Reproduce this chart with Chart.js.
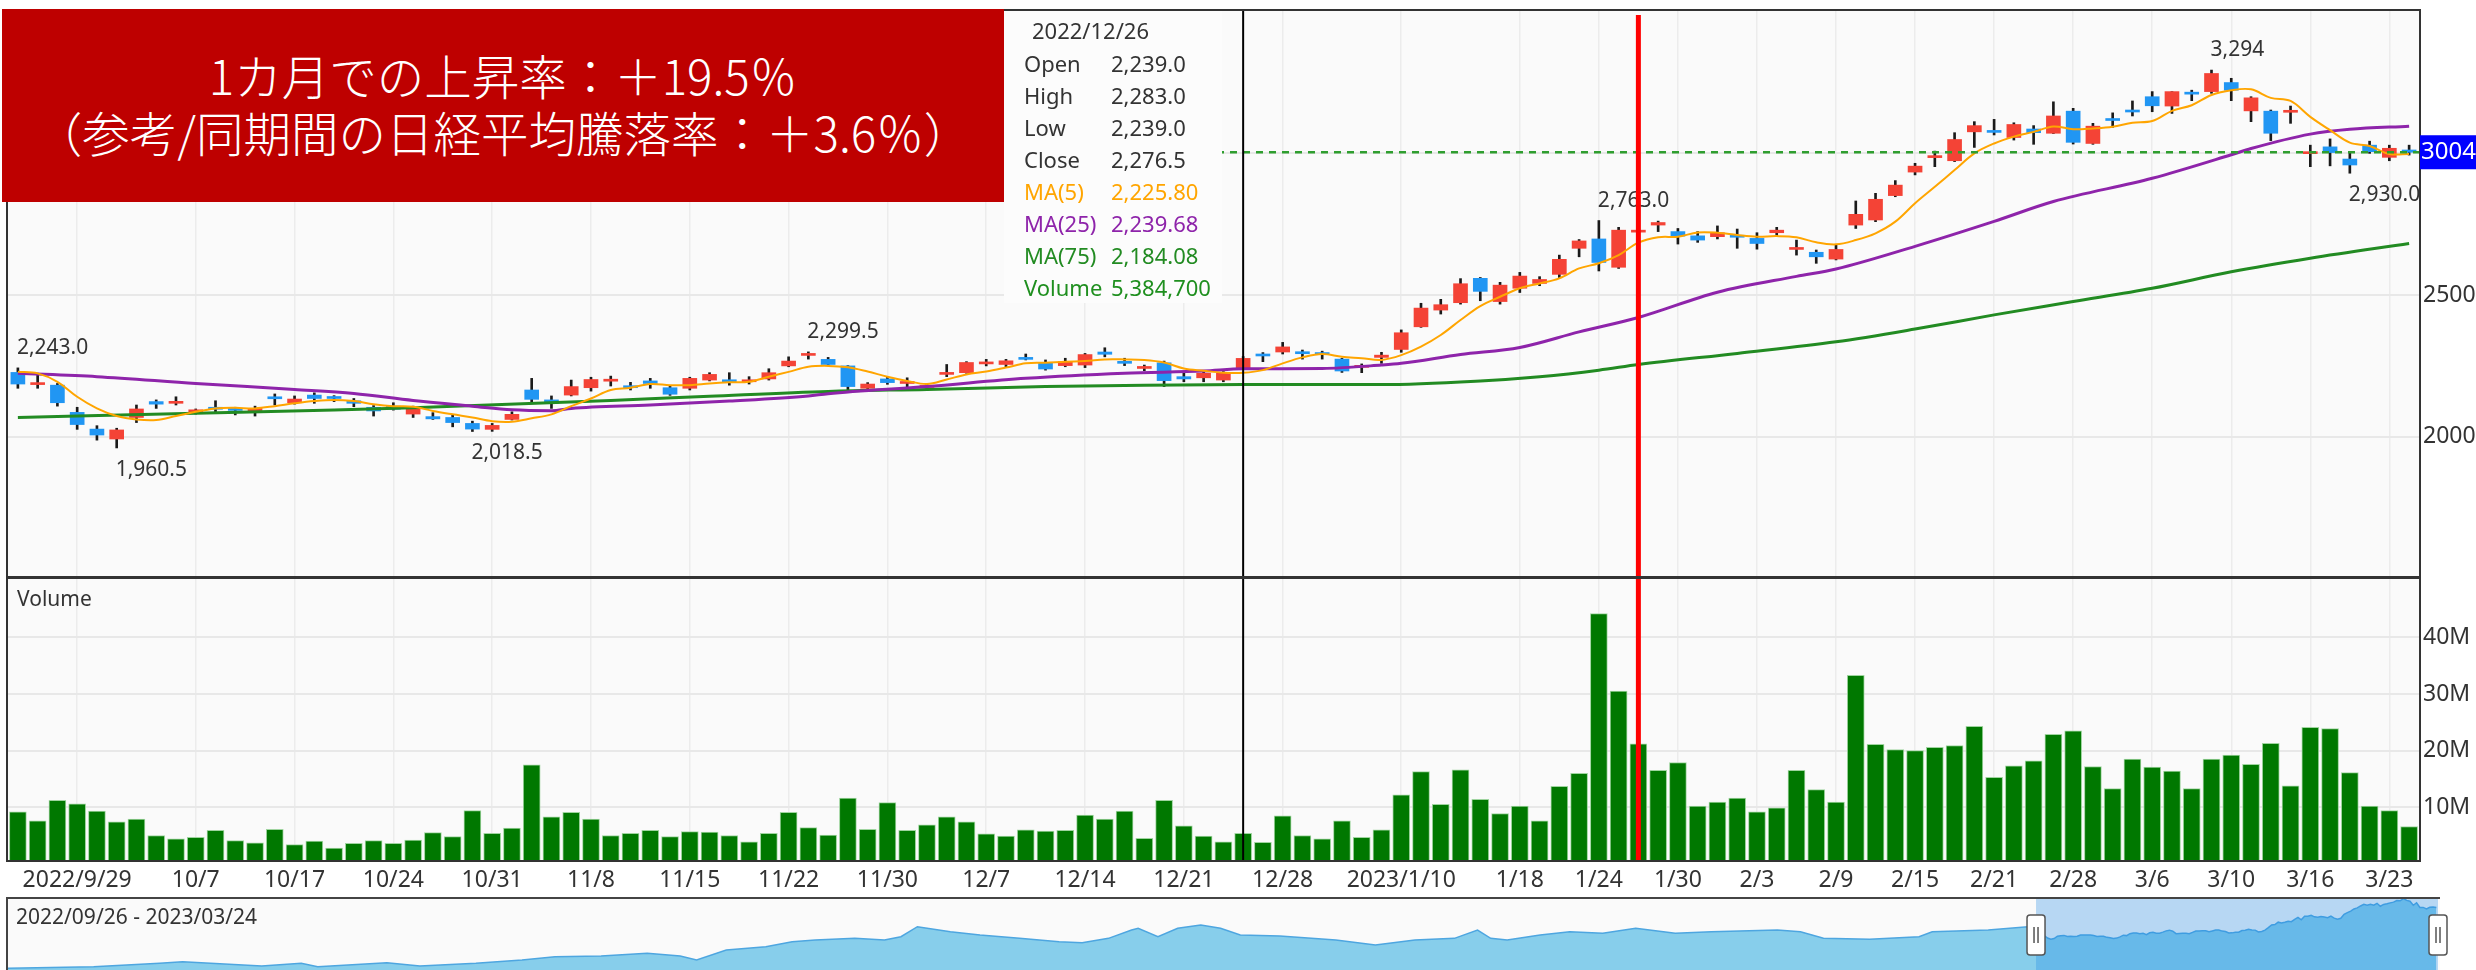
<!DOCTYPE html>
<html>
<head>
<meta charset="utf-8">
<script src="https://cdn.jsdelivr.net/npm/chart.js@4.4.0/dist/chart.umd.min.js"></script>
<style>
  html, body { margin: 0; padding: 0; background: #fff; }
  #wrap { position: relative; width: 2476px; height: 970px; overflow: hidden; }
  canvas { position: absolute; left: 0; }
  #price { top: 0; }
  #volume { top: 578px; }
  #nav { top: 897px; }
  #note { position: absolute; left: 2px; top: 9px; width: 1002px; height: 193px; background: #be0000;
          color: #fff; font-family: "Noto Sans CJK JP Light", "Noto Sans CJK JP"; font-weight: 300; font-size: 47.5px; text-align: center; }
  #note div { position: absolute; left: 0; right: 0; height: 57px; line-height: 57px; white-space: nowrap; }
</style>
</head>
<body>
<div id="wrap">
  <canvas id="price" width="2476" height="578"></canvas>
  <canvas id="volume" width="2476" height="320"></canvas>
  <canvas id="nav" width="2476" height="73"></canvas>
  <div id="note">
    <div style="top:37px">1カ月での上昇率：＋19.5％</div>
    <div style="top:94px">（参考/同期間の日経平均騰落率：＋3.6％）</div>
  </div>
</div>
<script>
// trading days shown
const months = [
  ['2022/09', [26, 27, 28, 29, 30]],
  ['2022/10', [3, 4, 5, 6, 7, 11, 12, 13, 14, 17, 18, 19, 20, 21, 24, 25, 26, 27, 28, 31]],
  ['2022/11', [1, 2, 4, 7, 8, 9, 10, 11, 14, 15, 16, 17, 18, 21, 22, 24, 25, 28, 29, 30]],
  ['2022/12', [1, 2, 5, 6, 7, 8, 9, 12, 13, 14, 15, 16, 19, 20, 21, 22, 23, 26, 27, 28, 29, 30]],
  ['2023/01', [4, 5, 6, 10, 11, 12, 13, 16, 17, 18, 19, 20, 23, 24, 25, 26, 27, 30, 31]],
  ['2023/02', [1, 2, 3, 6, 7, 8, 9, 10, 13, 14, 15, 16, 17, 20, 21, 22, 24, 27, 28]],
  ['2023/03', [1, 2, 3, 6, 7, 8, 9, 10, 13, 14, 15, 16, 17, 20, 22, 23, 24]]
];
const dates = [];
months.forEach(([ym, days]) => days.forEach(d => dates.push(ym + '/' + String(d).padStart(2, '0'))));

const tickDates = ['2022/09/29', '2022/10/07', '2022/10/17', '2022/10/24', '2022/10/31', '2022/11/08', '2022/11/15',
  '2022/11/22', '2022/11/30', '2022/12/07', '2022/12/14', '2022/12/21', '2022/12/28', '2023/01/10', '2023/01/18',
  '2023/01/24', '2023/01/30', '2023/02/03', '2023/02/09', '2023/02/15', '2023/02/21', '2023/02/28', '2023/03/06',
  '2023/03/10', '2023/03/16', '2023/03/23'];
const tickTexts = ['2022/9/29', '10/7', '10/17', '10/24', '10/31', '11/8', '11/15', '11/22', '11/30', '12/7', '12/14',
  '12/21', '12/28', '2023/1/10', '1/18', '1/24', '1/30', '2/3', '2/9', '2/15', '2/21', '2/28', '3/6', '3/10', '3/16', '3/23'];

const opens = [2227, 2184, 2182, 2086, 2027, 1992, 2068, 2124, 2118, 2088, 2098, 2094, 2085, 2139, 2120, 2147, 2136, 2127, 2104, 2108,
  2080, 2071, 2068, 2047, 2026, 2061, 2165, 2130, 2147, 2173, 2196, 2179, 2197, 2173, 2171, 2200, 2195, 2194, 2204, 2250,
  2287, 2273, 2250, 2171, 2204, 2188, 2174, 2220, 2226, 2257, 2255, 2277, 2259, 2251, 2253, 2299, 2266, 2241, 2261, 2212,
  2208, 2200, 2239, 2288, 2299, 2299, 2291, 2274, 2245, 2280, 2308, 2388, 2447, 2473, 2559, 2477, 2524, 2541, 2573, 2665,
  2698, 2598, 2722, 2747, 2724, 2709, 2706, 2711, 2700, 2720, 2661, 2651, 2627, 2747, 2765, 2851, 2934, 2985, 2974, 3076,
  3081, 3056, 3086, 3071, 3149, 3035, 3121, 3152, 3200, 3167, 3215, 3218, 3250, 3150, 3149, 3145, 2999, 3023, 2980, 3029,
  2986, 3012];
const highs = [2243, 2224, 2188, 2104, 2039, 2030, 2112, 2130, 2141, 2098, 2127, 2104, 2108, 2151, 2144, 2155, 2145, 2135, 2110, 2120,
  2108, 2085, 2077, 2055, 2047, 2088, 2206, 2144, 2200, 2210, 2214, 2192, 2206, 2179, 2210, 2226, 2226, 2212, 2240, 2282,
  2299.5, 2280, 2251, 2191, 2212, 2208, 2185, 2255, 2265, 2273, 2273, 2292, 2271, 2277, 2294, 2314, 2277, 2253, 2267, 2224,
  2232, 2230, 2283, 2297, 2333, 2306, 2302, 2277, 2257, 2298, 2377, 2471, 2485, 2558, 2562, 2545, 2580, 2565, 2641, 2696,
  2763, 2739, 2728, 2761, 2735, 2724, 2744, 2733, 2720, 2739, 2694, 2659, 2677, 2832, 2859, 2904, 2965, 3008, 3073, 3112,
  3120, 3108, 3098, 3182, 3159, 3106, 3143, 3185, 3218, 3218, 3223, 3294, 3265, 3200, 3153, 3167, 3029, 3051, 3003, 3043,
  3029, 3029];
const lows = [2171, 2171, 2108, 2026, 1988, 1960.5, 2050, 2100, 2112, 2080, 2088, 2077, 2073, 2112, 2115, 2118, 2124, 2106, 2073, 2094,
  2068, 2061, 2035, 2018.5, 2019, 2059, 2120, 2100, 2144, 2161, 2179, 2165, 2171, 2146, 2165, 2197, 2182, 2186, 2200, 2247,
  2274, 2251, 2165, 2165, 2185, 2168, 2163, 2212, 2224, 2250, 2247, 2271, 2235, 2247, 2244, 2282, 2251, 2233, 2177, 2194,
  2194, 2194, 2239, 2265, 2292, 2274, 2274, 2227, 2226, 2259, 2298, 2386, 2433, 2468, 2480, 2468, 2509, 2533, 2562, 2635,
  2585, 2594, 2712, 2724, 2680, 2686, 2698, 2665, 2662, 2706, 2641, 2612, 2624, 2735, 2759, 2847, 2924, 2953, 2971, 3021,
  3065, 3047, 3032, 3070, 3033, 3032, 3092, 3132, 3147, 3141, 3186, 3212, 3186, 3112, 3045, 3106, 2953, 2956, 2930, 3000,
  2974, 2994];
const closes = [2186, 2186, 2120, 2043, 2006, 2024, 2098, 2115, 2124, 2089, 2097, 2093, 2100, 2134, 2133, 2135, 2135, 2118, 2091, 2097,
  2100, 2063, 2050, 2027, 2040, 2079, 2132, 2118, 2177, 2202, 2197, 2173, 2188, 2150, 2206, 2220, 2194, 2195, 2226, 2267,
  2289, 2255, 2177, 2186, 2191, 2194, 2177, 2221, 2262, 2261, 2268, 2273, 2239, 2265, 2290, 2291, 2259, 2244, 2198, 2204,
  2224, 2224, 2276.5, 2285, 2317, 2293, 2290, 2232, 2249, 2288, 2367, 2454, 2466, 2540, 2513, 2535, 2567, 2555, 2626, 2691,
  2615, 2729, 2724, 2756, 2708, 2694, 2720, 2704, 2682, 2729, 2667, 2635, 2661, 2785, 2838, 2888, 2955, 2988, 3049, 3098,
  3074, 3102, 3073, 3132, 3039, 3096, 3116, 3146, 3168, 3218, 3209, 3282, 3223, 3196, 3071, 3149, 3001, 3003, 2959, 3006,
  3018, 3004];
// volume in millions of shares
const volumes = [9.2, 7.6, 11.2, 10.6, 9.3, 7.4, 7.9, 5.0, 4.4, 4.7, 5.9, 4.1, 3.7, 6.1, 3.4, 4.0, 2.8, 3.6, 4.1, 3.6,
  4.2, 5.5, 4.8, 9.4, 5.4, 6.3, 17.5, 8.3, 9.1, 7.9, 5.0, 5.4, 5.9, 4.8, 5.7, 5.6, 5.0, 3.9, 5.4, 9.1,
  6.4, 5.1, 11.6, 6.1, 10.8, 5.9, 6.9, 8.3, 7.4, 5.3, 4.9, 6.0, 5.8, 5.9, 8.6, 7.9, 9.3, 4.5, 11.2, 6.7,
  4.9, 3.9, 5.3847, 3.8, 8.5, 5.0, 4.4, 7.6, 4.7, 6.0, 12.2, 16.3, 10.5, 16.6, 11.4, 8.9, 10.2, 7.6, 13.7, 16.0,
  44.2, 30.5, 21.2, 16.5, 17.9, 10.2, 10.9, 11.6, 9.2, 9.9, 16.5, 13.1, 10.9, 33.3, 21.1, 20.2, 20.0, 20.6, 20.9, 24.3,
  15.3, 17.3, 18.2, 22.9, 23.5, 17.2, 13.3, 18.5, 17.1, 16.4, 13.3, 18.5, 19.2, 17.6, 21.3, 13.8, 24.1, 23.9, 16.1, 10.2,
  9.4, 6.6];
const ma5 = [2229.5, 2223.6, 2194, 2141, 2100, 2073, 2061, 2059, 2073, 2088, 2100, 2102, 2100, 2108, 2118, 2126, 2130, 2126, 2115, 2108,
  2106, 2091, 2079, 2068, 2055, 2053, 2065, 2079, 2108, 2135, 2165, 2173, 2186, 2182, 2182, 2188, 2192, 2194, 2212, 2229,
  2247, 2250, 2245, 2230, 2212, 2197, 2186, 2202, 2220, 2230, 2244, 2259, 2261, 2265, 2267, 2273, 2273, 2271, 2262, 2241,
  2233, 2226, 2225.80, 2235, 2259, 2280, 2292, 2282, 2277, 2271, 2288, 2318, 2359, 2412, 2461, 2494, 2524, 2541, 2559, 2594,
  2612, 2641, 2685, 2704, 2706, 2721, 2720, 2712, 2706, 2708, 2704, 2686, 2679, 2694, 2718, 2759, 2824, 2882, 2941, 3000,
  3035, 3059, 3076, 3095, 3085, 3088, 3094, 3108, 3114, 3150, 3170, 3206, 3223, 3226, 3196, 3185, 3129, 3082, 3038, 3026,
  2998, 2998];
const ma25Idx = [0, 4, 9, 14, 17, 20, 23, 25, 27, 28, 32, 36, 40, 41, 46, 51, 56, 60, 62, 66, 69, 70, 73, 76, 79, 82, 86, 90, 92, 96, 100, 103, 108, 112, 113, 116, 118, 121];
const ma25Val = [2224, 2212, 2188, 2167, 2153, 2128, 2108, 2095, 2092, 2100, 2112, 2126, 2144, 2152, 2177, 2206, 2224, 2232, 2239.68, 2241, 2253, 2259, 2290, 2315, 2370, 2421, 2510, 2566, 2592, 2672, 2760, 2830, 2912, 2995, 3017, 3068, 3085, 3096];
const ma75Idx = [0, 9, 16, 20, 30, 35, 41, 46, 52, 57, 62, 69, 74, 77, 80, 82, 87, 92, 96, 100, 104, 108, 112, 116, 121];
const ma75Val = [2068, 2083, 2094, 2102, 2128, 2143, 2160, 2167, 2177, 2182, 2184.08, 2184, 2197, 2212, 2235, 2255, 2294, 2335, 2380, 2430, 2477, 2524, 2582, 2630, 2682];

const peakIdx = [0, 5, 23, 40, 80, 111, 118];
const peakKind = ['high', 'low', 'low', 'high', 'high', 'high', 'low'];
const peakText = ['2,243.0', '1,960.5', '2,018.5', '2,299.5', '2,763.0', '3,294', '2,930.0'];

const crossDate = '2022/12/26';
const markDate = '2023/01/26';
const lastPrice = 3004;
const priceTicks = [2000, 2500, 3000];
const volTicks = [10, 20, 30, 40];

// navigator history before the shown window (day number, price)
const navDays = [0, 26, 46, 53, 77, 89, 94, 115, 125, 142, 156, 166, 180, 194, 204, 209, 218, 230, 238, 245,
  257, 266, 271, 276, 286, 295, 307, 319, 326, 334, 341, 343, 349, 355, 362, 368, 374, 386, 403, 415,
  427, 439, 446, 450, 455, 465, 474, 484, 494, 506, 517, 537, 544, 551, 565, 580, 584, 601, 613];
const navVals = [1090, 1142, 1247, 1299, 1163, 1247, 1142, 1268, 1163, 1247, 1352, 1456, 1477, 1561, 1477, 1352, 1666, 1770, 1927, 1980,
  2032, 1980, 2084, 2398, 2241, 2137, 2032, 1927, 1896, 2032, 2294, 2346, 2084, 2346, 2451, 2346, 2137, 2105, 1980, 1823,
  1980, 2032, 2294, 2032, 1980, 2137, 2241, 2189, 2346, 2189, 2241, 2294, 2241, 2032, 2001, 2084, 2241, 2294, 2398];
const navFirstDay = 616;

const UP = '#f44336', DOWN = '#2196f3';
const FONT = '"Noto Sans", "Open Sans", sans-serif';
const tickIdx = tickDates.map(d => dates.indexOf(d));
const crossIdx = dates.indexOf(crossDate);
const markIdx = dates.indexOf(markDate);

const sparse = (idx, val) => {
  const out = Array(dates.length).fill(null);
  idx.forEach((i, k) => { out[i] = val[k]; });
  return out;
};
const ma25 = sparse(ma25Idx, ma25Val);
const ma75 = sparse(ma75Idx, ma75Val);
const fmt = (v, d) => v.toLocaleString('en-US', { minimumFractionDigits: d, maximumFractionDigits: d });

const xGrid = {
  offset: false, drawTicks: false, lineWidth: 1.5,
  color: ctx => tickIdx.includes(ctx.index) ? '#ececec' : 'rgba(0,0,0,0)'
};
const fixY = s => { s.width = 57; s.paddingTop = 0; s.paddingBottom = 0; };

function vLines(chart, top) {
  const { ctx, chartArea, scales } = chart;
  ctx.save();
  ctx.strokeStyle = '#000';
  ctx.lineWidth = 2;
  const cx = scales.x.getPixelForValue(crossIdx);
  ctx.beginPath(); ctx.moveTo(cx, chartArea.top); ctx.lineTo(cx, chartArea.bottom); ctx.stroke();
  ctx.strokeStyle = '#ff0000';
  ctx.lineWidth = 5;
  const mx = scales.x.getPixelForValue(markIdx);
  ctx.beginPath(); ctx.moveTo(mx, chartArea.top + top); ctx.lineTo(mx, chartArea.bottom); ctx.stroke();
  ctx.restore();
}
function frame(chart) {
  const { ctx, chartArea } = chart;
  ctx.save();
  ctx.strokeStyle = '#333';
  ctx.lineWidth = 2;
  ctx.strokeRect(chartArea.left - 1, chartArea.top, chartArea.right - chartArea.left + 2, chartArea.bottom - chartArea.top);
  ctx.restore();
}
function fillBg(chart) {
  const { ctx, chartArea } = chart;
  ctx.save();
  ctx.fillStyle = '#fafafa';
  ctx.fillRect(chartArea.left, chartArea.top, chartArea.right - chartArea.left, chartArea.bottom - chartArea.top);
  ctx.restore();
}

const priceExtras = {
  id: 'priceExtras',
  beforeDraw: fillBg,
  afterDatasetsDraw(chart) {
    const { ctx, chartArea, scales } = chart;
    const y = scales.y;
    ctx.save();
    // current price line
    ctx.strokeStyle = '#2f9e2f';
    ctx.lineWidth = 2.5;
    ctx.setLineDash([7, 6]);
    const ly = y.getPixelForValue(lastPrice);
    ctx.beginPath(); ctx.moveTo(chartArea.left, ly); ctx.lineTo(chartArea.right, ly); ctx.stroke();
    ctx.setLineDash([]);
    // high / low labels
    ctx.beginPath();
    ctx.rect(chartArea.left, chartArea.top, chartArea.right - chartArea.left, chartArea.bottom - chartArea.top);
    ctx.clip();
    ctx.font = '21px ' + FONT;
    ctx.fillStyle = '#333';
    ctx.textAlign = 'left';
    ctx.textBaseline = 'middle';
    peakIdx.forEach((i, k) => {
      const px = scales.x.getPixelForValue(i);
      const py = peakKind[k] === 'high' ? y.getPixelForValue(highs[i]) - 20 : y.getPixelForValue(lows[i]) + 22;
      ctx.fillText(peakText[k], px - 1, py);
    });
    ctx.restore();
    vLines(chart, 5);
  },
  afterDraw(chart) {
    const { ctx, chartArea, scales } = chart;
    frame(chart);
    // info box for the crosshair day
    ctx.save();
    ctx.fillStyle = '#fcfcfc';
    ctx.fillRect(1004, chartArea.top + 1, 218, 292);
    ctx.font = '22px ' + FONT;
    ctx.textBaseline = 'middle';
    ctx.textAlign = 'left';
    ctx.fillStyle = '#333';
    ctx.fillText(dates[crossIdx], 1032, 33);
    const rows = [
      ['Open', fmt(opens[crossIdx], 1), '#333'],
      ['High', fmt(highs[crossIdx], 1), '#333'],
      ['Low', fmt(lows[crossIdx], 1), '#333'],
      ['Close', fmt(closes[crossIdx], 1), '#333'],
      ['MA(5)', fmt(ma5[crossIdx], 2), '#ffa500'],
      ['MA(25)', fmt(ma25[crossIdx], 2), '#8e24aa'],
      ['MA(75)', fmt(ma75[crossIdx], 2), '#228b22'],
      ['Volume', fmt(Math.round(volumes[crossIdx] * 1e6), 0), '#1f8f1f']
    ];
    rows.forEach((r, k) => {
      ctx.fillStyle = r[2];
      ctx.fillText(r[0], 1024, 66 + k * 32);
      ctx.fillText(r[1], 1111, 66 + k * 32);
    });
    // price tag on the axis
    const ty = scales.y.getPixelForValue(lastPrice);
    ctx.fillStyle = '#0000ff';
    ctx.fillRect(chartArea.right + 1, ty - 17, 60, 34);
    ctx.fillStyle = '#fff';
    ctx.font = '24px ' + FONT;
    ctx.fillText(String(lastPrice), chartArea.right + 2, ty);
    ctx.restore();
  }
};

new Chart(document.getElementById('price'), {
  type: 'bar',
  data: {
    labels: dates,
    datasets: [
      { type: 'line', label: 'MA(5)', data: ma5, borderColor: '#ffa500', borderWidth: 2, pointRadius: 0, tension: 0.35, order: 0 },
      { type: 'line', label: 'MA(25)', data: ma25, borderColor: '#8e24aa', borderWidth: 3, pointRadius: 0, spanGaps: true, cubicInterpolationMode: 'monotone', order: 0 },
      { type: 'line', label: 'MA(75)', data: ma75, borderColor: '#228b22', borderWidth: 3, pointRadius: 0, spanGaps: true, cubicInterpolationMode: 'monotone', order: 0 },
      { label: 'body', data: opens.map((o, i) => [o, closes[i]]), backgroundColor: opens.map((o, i) => closes[i] >= o ? UP : DOWN),
        barThickness: 14, minBarLength: 2, grouped: false, order: 1 },
      { label: 'wick', data: lows.map((l, i) => [l, highs[i]]), backgroundColor: '#1a1a1a', barThickness: 2, grouped: false, order: 2 }
    ]
  },
  options: {
    responsive: false,
    animation: false,
    layout: { padding: { left: 8, top: 10, right: 0, bottom: 1 } },
    plugins: { legend: { display: false }, tooltip: { enabled: false } },
    scales: {
      x: {
        offset: true,
        grid: xGrid,
        border: { display: false },
        ticks: { display: false, autoSkip: false }
      },
      y: {
        position: 'right',
        min: 1505,
        max: 3506,
        afterBuildTicks: axis => { axis.ticks = priceTicks.map(v => ({ value: v })); },
        afterFit: fixY,
        grid: { color: '#e8e8e8', lineWidth: 2, drawTicks: false },
        border: { display: false },
        ticks: { padding: 4, color: '#333', font: { size: 23, family: FONT }, callback: v => String(v) }
      }
    }
  },
  plugins: [priceExtras]
});

const volumeExtras = {
  id: 'volumeExtras',
  beforeDraw: fillBg,
  afterDatasetsDraw(chart) { vLines(chart, 0); },
  afterDraw(chart) {
    const { ctx, chartArea } = chart;
    frame(chart);
    ctx.save();
    ctx.font = '21px ' + FONT;
    ctx.fillStyle = '#333';
    ctx.textBaseline = 'middle';
    ctx.fillText('Volume', 17, chartArea.top + 22);
    ctx.restore();
  }
};

new Chart(document.getElementById('volume'), {
  type: 'bar',
  data: {
    labels: dates,
    datasets: [{ label: 'Volume', data: volumes, backgroundColor: '#007800', borderColor: '#9fd49f', borderWidth: 1, barThickness: 17 }]
  },
  options: {
    responsive: false,
    animation: false,
    layout: { padding: { left: 8, top: 0, right: 0, bottom: 0 } },
    plugins: { legend: { display: false }, tooltip: { enabled: false } },
    scales: {
      x: {
        offset: true,
        grid: xGrid,
        border: { display: false },
        afterFit: s => { s.height = 37; s.paddingLeft = 0; s.paddingRight = 0; },
        ticks: {
          autoSkip: false, maxRotation: 0, padding: 6, color: '#333', font: { size: 23, family: FONT },
          callback: (v, i) => { const k = tickIdx.indexOf(i); return k >= 0 ? tickTexts[k] : ''; }
        }
      },
      y: {
        position: 'right',
        min: 0.5,
        max: 50.5,
        afterBuildTicks: axis => { axis.ticks = volTicks.map(v => ({ value: v })); },
        afterFit: fixY,
        grid: { color: '#e8e8e8', lineWidth: 2, drawTicks: false },
        border: { display: false },
        ticks: { padding: 4, color: '#333', font: { size: 23, family: FONT }, callback: v => v + 'M' }
      }
    }
  },
  plugins: [volumeExtras]
});

// navigator: older history plus the closes of the shown window
const navPoints = navDays.map((d, k) => ({ x: d, y: navVals[k] }))
  .concat(closes.map((c, i) => ({ x: navFirstDay + i, y: c })));
const navFrom = navFirstDay - 0.5;
const navTo = navFirstDay + closes.length - 0.5;

const navExtras = {
  id: 'navExtras',
  beforeDraw(chart) {
    const { ctx, chartArea } = chart;
    ctx.save();
    ctx.fillStyle = '#fafafa';
    ctx.fillRect(chartArea.left - 2, 0, chartArea.right - chartArea.left + 4, chart.height);
    ctx.restore();
  },
  afterDatasetsDraw(chart) {
    const { ctx, chartArea, scales } = chart;
    const x0 = scales.x.getPixelForValue(navFrom);
    const x1 = scales.x.getPixelForValue(navTo);
    ctx.save();
    ctx.fillStyle = 'rgba(30,136,229,0.3)';
    ctx.fillRect(x0, 0, x1 - x0, chart.height);
    ctx.strokeStyle = '#444';
    ctx.lineWidth = 2;
    ctx.beginPath();
    ctx.moveTo(chartArea.left - 2, 1); ctx.lineTo(x1 + 2, 1);
    ctx.moveTo(chartArea.left - 1, 0); ctx.lineTo(chartArea.left - 1, chart.height);
    ctx.stroke();
    [x0, x1].forEach(hx => {
      ctx.fillStyle = '#fff';
      ctx.strokeStyle = '#555';
      ctx.lineWidth = 1.5;
      ctx.beginPath();
      ctx.roundRect(hx - 9, 18, 18, 40, 3);
      ctx.fill(); ctx.stroke();
      ctx.beginPath();
      ctx.moveTo(hx - 2, 30); ctx.lineTo(hx - 2, 46);
      ctx.moveTo(hx + 2, 30); ctx.lineTo(hx + 2, 46);
      ctx.stroke();
    });
    ctx.font = '21px ' + FONT;
    ctx.fillStyle = '#333';
    ctx.textBaseline = 'middle';
    ctx.fillText(dates[0] + ' - ' + dates[dates.length - 1], 16, 21);
    ctx.restore();
  }
};

new Chart(document.getElementById('nav'), {
  type: 'line',
  data: {
    datasets: [{ data: navPoints, borderColor: '#4ea6e0', borderWidth: 1.5, backgroundColor: '#87ceeb', fill: 'start', pointRadius: 0, tension: 0 }]
  },
  options: {
    responsive: false,
    animation: false,
    layout: { padding: { left: 8, top: 0, right: 38, bottom: 0 } },
    plugins: { legend: { display: false }, tooltip: { enabled: false } },
    scales: {
      x: { type: 'linear', display: false, min: 0, max: navTo },
      y: { display: false, min: 1038, max: 3330 }
    }
  },
  plugins: [navExtras]
});
</script>
</body>
</html>
